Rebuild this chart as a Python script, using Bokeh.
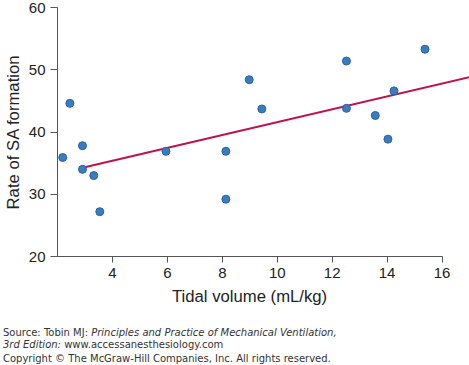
from bokeh.plotting import figure
from bokeh.layouts import column
from bokeh.models import Range1d, FixedTicker, ColumnDataSource, Div
from bokeh.embed import file_html
from bokeh.resources import INLINE

# Data
tidal_volume = [2.19, 2.45, 2.91, 2.91, 3.32, 3.54, 5.95, 8.13, 8.13,
                8.98, 9.44, 12.52, 12.52, 13.57, 14.03, 14.25, 15.38]
sa_rate = [35.9, 44.6, 37.8, 34.0, 33.0, 27.2, 36.9, 36.9, 29.2,
           48.4, 43.7, 51.4, 43.8, 42.65, 38.85, 46.6, 53.3]
fit_x = [2.95, 17.0]
fit_y = [34.3, 48.8]
x_ticks = [4, 6, 8, 10, 12, 14, 16]
y_ticks = [20, 30, 40, 50, 60]

W, H1, H2 = 469, 318, 47
p = figure(width=W, height=H1, output_backend="svg", toolbar_location=None,
           x_range=Range1d(2, 17), y_range=Range1d(20, 60),
           min_border_left=57, min_border_right=0, min_border_top=7,
           min_border_bottom=H1 - 256)
p.outline_line_color = None
p.grid.visible = False

src = ColumnDataSource(dict(x=tidal_volume, y=sa_rate))
p.line(fit_x, fit_y, line_color="#c0114a", line_width=2)
p.scatter("x", "y", source=src, size=8, fill_color="#3b7cc0",
          line_color="#2763a3", line_width=1)

font = "Liberation Sans"
for ax in (p.xaxis[0], p.yaxis[0]):
    ax.axis_line_color = "#555555"
    ax.major_tick_line_color = "#555555"
    ax.minor_tick_line_color = None
    ax.major_tick_in = 0
    ax.major_tick_out = 6
    ax.major_label_text_font = font
    ax.major_label_text_font_size = "15px"
    ax.major_label_text_color = "#222222"
    ax.axis_label_text_font = font
    ax.axis_label_text_font_size = "16.7px"
    ax.axis_label_text_font_style = "normal"
    ax.axis_label_text_color = "#222222"
    ax.major_label_standoff = 5

p.xaxis[0].ticker = FixedTicker(ticks=x_ticks)
p.xaxis[0].bounds = (2, 16)
# trailing no-break spaces centre the title on the drawn axis (2..16)
p.xaxis[0].axis_label = "Tidal volume (mL/kg)" + "\u00a0" * 6
p.xaxis[0].axis_label_standoff = 6

p.yaxis[0].ticker = FixedTicker(ticks=y_ticks)
p.yaxis[0].major_tick_out = 7
p.yaxis[0].axis_label = "Rate of SA formation"
p.yaxis[0].axis_label_standoff = 3

# Source / copyright credit block
line_style = ("position:absolute;left:3px;top:{}px;line-height:12px;"
              "white-space:nowrap;")
credit_html = (
    "<div style=\"position:relative;width:469px;height:47px;"
    "font-family:'DejaVu Sans';font-size:10px;color:#333333;\">"
    "<div style=\"" + line_style.format(8.5) + "\">Source: Tobin MJ: "
    "<i>Principles and Practice of Mechanical Ventilation,</i></div>"
    "<div style=\"" + line_style.format(20.5) + "\"><i>3rd Edition:</i> "
    "www.accessanesthesiology.com</div>"
    "<div style=\"" + line_style.format(35.2) + "\">Copyright \u00a9 The "
    "McGraw-Hill Companies, Inc. All rights reserved.</div>"
    "</div>")
credits = Div(text=credit_html, width=W, height=H2, margin=0)

layout = column(p, credits, spacing=0)
open("out.html", "w").write(file_html(layout, INLINE))
